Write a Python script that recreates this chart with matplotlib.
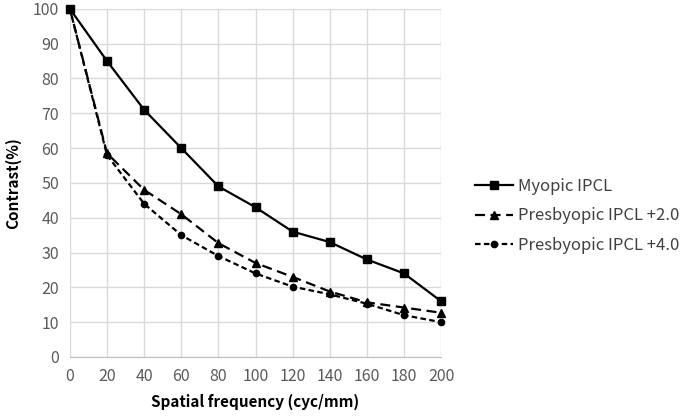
import matplotlib.pyplot as plt

plt.rcParams['font.family'] = ['Noto Sans CJK JP', 'DejaVu Sans']

freq = [0, 20, 40, 60, 80, 100, 120, 140, 160, 180, 200]
myopic = [100, 85, 71, 60, 49, 43, 36, 33, 28, 24, 16]
presby_2 = [100, 58.5, 48, 41, 32.7, 27, 23, 18.8, 15.7, 14.2, 12.7]
presby_4 = [100, 58, 44, 35, 29, 24, 20.2, 18, 15.3, 12, 10]

fig = plt.figure(figsize=(6.85, 4.19), dpi=100)
ax = fig.add_axes([0.102, 0.148, 0.542, 0.831])

ax.plot(freq, myopic, color='black', linewidth=1.6, marker='s', markersize=6,
        label='Myopic IPCL', clip_on=False, zorder=3)
ax.plot(freq, presby_2, color='black', linewidth=1.6, linestyle=(0, (4.5, 2.5)),
        marker='^', markersize=6, label='Presbyopic IPCL +2.0', clip_on=False, zorder=3)
ax.plot(freq, presby_4, color='black', linewidth=1.6, linestyle=(0, (2.5, 1.5)),
        marker='o', markersize=4.5, label='Presbyopic IPCL +4.0', clip_on=False, zorder=3)

ax.set_xlim(0, 200)
ax.set_ylim(0, 100)
ax.set_xticks(range(0, 201, 20))
ax.set_yticks(range(0, 101, 10))
ax.grid(True, color='#d9d9d9', linewidth=1)
ax.set_axisbelow(True)
for s in ['top', 'right', 'left']:
    ax.spines[s].set_visible(False)
ax.spines['bottom'].set_color('#bfbfbf')
ax.tick_params(length=0, labelsize=11.5, labelcolor='#595959', pad=8)

ax.set_xlabel('Spatial frequency (cyc/mm)', fontsize=11, fontweight='bold', labelpad=6)
ax.set_ylabel('Contrast(%)', fontsize=11, fontweight='bold', labelpad=8)

# legend sits a bit below the middle, like in the original
ax.legend(loc='center left', bbox_to_anchor=(1.05, 0.405), frameon=False,
          fontsize=12, handlelength=2.3, labelcolor='#404040', handletextpad=0.3,
          labelspacing=0.75)

fig.savefig('out.png', dpi=100)
